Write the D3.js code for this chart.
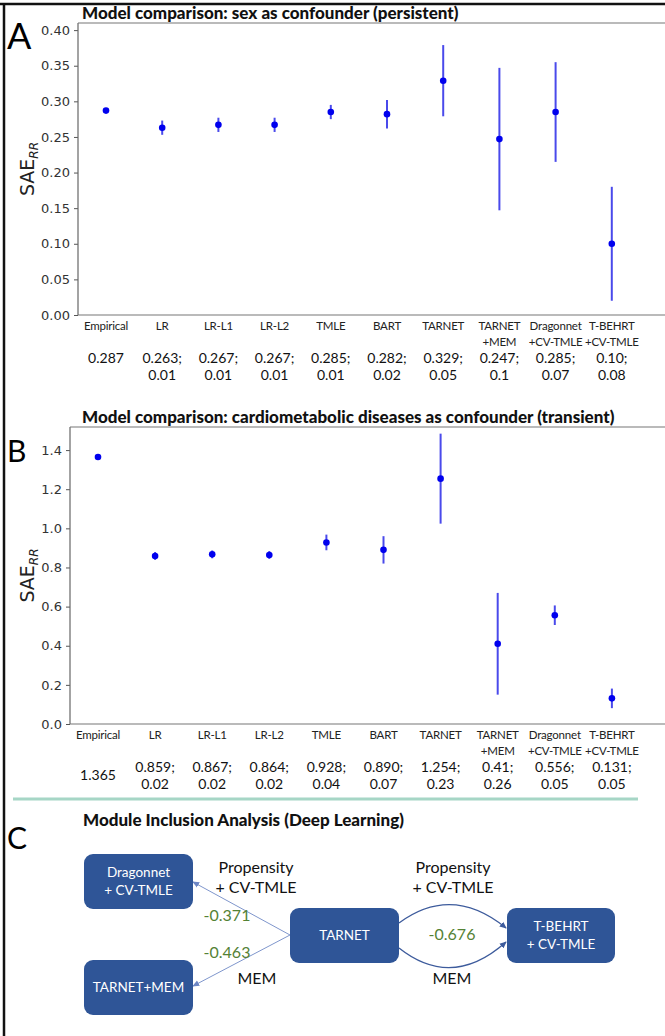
<!DOCTYPE html>
<html>
<head>
<meta charset="utf-8">
<script src="https://cdn.jsdelivr.net/npm/d3@7"></script>
<style>
  body { margin: 0; background: #fff; }
  svg { display: block; }
</style>
</head>
<body>
<svg id="fig" width="665" height="1036"></svg>
<script>
// model names (two-line labels as in the figure)
const modelLabels = [
    ['Empirical'], ['LR'], ['LR-L1'], ['LR-L2'], ['TMLE'], ['BART'], ['TARNET'],
    ['TARNET', '+MEM'], ['Dragonnet', '+CV-TMLE'], ['T-BEHRT', '+CV-TMLE']
];

// panel A: sex as confounder
const sexMean = [0.287, 0.263, 0.267, 0.267, 0.285, 0.282, 0.329, 0.247, 0.285, 0.10];
const sexErr = [0, 0.01, 0.01, 0.01, 0.01, 0.02, 0.05, 0.1, 0.07, 0.08];
const sexText = [
    ['0.287'], ['0.263;', '0.01'], ['0.267;', '0.01'], ['0.267;', '0.01'], ['0.285;', '0.01'],
    ['0.282;', '0.02'], ['0.329;', '0.05'], ['0.247;', '0.1'], ['0.285;', '0.07'], ['0.10;', '0.08']
];
const sexTicks = [0, 0.05, 0.10, 0.15, 0.20, 0.25, 0.30, 0.35, 0.40];

// panel B: cardiometabolic diseases as confounder
const cardioMean = [1.365, 0.859, 0.867, 0.864, 0.928, 0.890, 1.254, 0.41, 0.556, 0.131];
const cardioErr = [0, 0.02, 0.02, 0.02, 0.04, 0.07, 0.23, 0.26, 0.05, 0.05];
const cardioText = [
    ['1.365'], ['0.859;', '0.02'], ['0.867;', '0.02'], ['0.864;', '0.02'], ['0.928;', '0.04'],
    ['0.890;', '0.07'], ['1.254;', '0.23'], ['0.41;', '0.26'], ['0.556;', '0.05'], ['0.131;', '0.05']
];
const cardioTicks = [0, 0.2, 0.4, 0.6, 0.8, 1.0, 1.2, 1.4];

// panel C: module inclusion diagram
const nodeNames = [['Dragonnet', '+ CV-TMLE'], ['TARNET+MEM'], ['TARNET'], ['T-BEHRT', '+ CV-TMLE']];
const edgeValues = ['-0.371', '-0.463', '-0.676'];
const edgeModules = [['Propensity', '+ CV-TMLE'], ['MEM'], ['Propensity', '+ CV-TMLE'], ['MEM']];

const svg = d3.select('#fig');
const W = 665;
const calibri = 'Lato, "Open Sans", sans-serif';
const mpl = '"DejaVu Sans", sans-serif';
const blue = '#2f5597';

// outer frame (left + top)
svg.append('line').attr('x1', 0).attr('x2', W).attr('y1', 4).attr('y2', 4)
    .attr('stroke', '#111').attr('stroke-width', 2.5);
svg.append('line').attr('x1', 4).attr('x2', 4).attr('y1', 3).attr('y2', 1036)
    .attr('stroke', '#111').attr('stroke-width', 2.5);

const drawPanel = (cfg) => {
    const g = svg.append('g');
    const x = d3.scalePoint()
        .domain(d3.range(modelLabels.length))
        .range([cfg.left + 28, cfg.left + 28 + cfg.step * (modelLabels.length - 1)]);
    const y = d3.scaleLinear().domain([0, cfg.ymax]).range([cfg.bottom, cfg.top]);

    // title
    g.append('text')
        .attr('x', 82).attr('y', cfg.titleY)
        .attr('font-family', 'Lato, sans-serif').attr('font-weight', 900)
        .attr('font-size', 17).attr('fill', '#111')
        .text(cfg.title);

    // panel letter
    g.append('text')
        .attr('x', 7).attr('y', cfg.letterY)
        .attr('font-family', 'Lato, sans-serif').attr('font-size', cfg.letterSize)
        .attr('fill', '#000')
        .text(cfg.letter);

    // y axis via d3
    const yAxis = d3.axisLeft(y).tickValues(cfg.ticks).tickFormat(d3.format(cfg.fmt)).tickSize(4).tickPadding(4);
    const ga = g.append('g').attr('transform', `translate(${cfg.left},0)`).call(yAxis);
    ga.select('.domain').remove();
    ga.selectAll('line').attr('stroke', '#555');
    ga.selectAll('text').attr('font-family', mpl).attr('font-size', 13).attr('fill', '#333');

    // spines: left, top, bottom (right is cut off)
    g.append('line').attr('x1', cfg.left).attr('x2', cfg.left).attr('y1', cfg.top).attr('y2', cfg.bottom)
        .attr('stroke', '#666').attr('stroke-width', 1.2);
    g.append('line').attr('x1', cfg.left).attr('x2', W).attr('y1', cfg.top).attr('y2', cfg.top)
        .attr('stroke', '#777').attr('stroke-width', 1.2);
    g.append('line').attr('x1', cfg.left).attr('x2', W).attr('y1', cfg.bottom).attr('y2', cfg.bottom)
        .attr('stroke', '#777').attr('stroke-width', 1.2);

    // y label SAE_RR
    const yl = g.append('text')
        .attr('transform', `translate(34,${(cfg.top + cfg.bottom) / 2}) rotate(-90)`)
        .attr('text-anchor', 'middle')
        .attr('font-family', mpl).attr('font-size', 19).attr('fill', '#222');
    yl.append('tspan').text('SAE');
    yl.append('tspan').attr('font-size', 12).attr('font-style', 'italic').attr('dy', 4).text('RR');

    // error bars
    g.append('g').selectAll('line')
        .data(cfg.mean.map((m, i) => ({i, m, e: cfg.err[i]})).filter(d => d.e > 0))
        .join('line')
        .attr('x1', d => x(d.i)).attr('x2', d => x(d.i))
        .attr('y1', d => y(d.m - d.e)).attr('y2', d => y(d.m + d.e))
        .attr('stroke', '#2a2ae8').attr('stroke-opacity', 0.85).attr('stroke-width', 2);

    // points
    g.append('g').selectAll('circle')
        .data(cfg.mean)
        .join('circle')
        .attr('cx', (d, i) => x(i)).attr('cy', d => y(d))
        .attr('r', 3.3).attr('fill', '#0000ee');

    // model name rows
    const lab = g.append('g').selectAll('text')
        .data(modelLabels)
        .join('text')
        .attr('text-anchor', 'middle')
        .attr('font-family', calibri).attr('font-size', 11.5).attr('fill', '#222')
        .attr('x', (d, i) => x(i)).attr('y', cfg.labelY);
    lab.selectAll('tspan').data(d => d).join('tspan')
        .attr('x', function() { return d3.select(this.parentNode).attr('x'); })
        .attr('dy', (d, j) => j === 0 ? 0 : 15.5)
        .attr('letter-spacing', -0.2)
        .text(d => d);

    // value rows (mean; sd)
    const val = g.append('g').selectAll('text')
        .data(cfg.text)
        .join('text')
        .attr('text-anchor', 'middle')
        .attr('font-family', calibri).attr('font-size', 14).attr('fill', '#111')
        .attr('x', (d, i) => x(i))
        .attr('y', d => d.length === 1 ? cfg.valueY + cfg.singleShift : cfg.valueY);
    val.selectAll('tspan').data(d => d).join('tspan')
        .attr('x', function() { return d3.select(this.parentNode).attr('x'); })
        .attr('dy', (d, j) => j === 0 ? 0 : 17)
        .text(d => d);
};

drawPanel({
    title: 'Model comparison: sex as confounder (persistent)',
    letter: 'A', letterY: 49, letterSize: 36, titleY: 19,
    left: 78, step: 56.2, top: 23, bottom: 315, ymax: 0.41,
    ticks: sexTicks, fmt: '.2f',
    mean: sexMean, err: sexErr, text: sexText,
    labelY: 330, valueY: 363, singleShift: 0
});

drawPanel({
    title: 'Model comparison: cardiometabolic diseases as confounder (transient)',
    letter: 'B', letterY: 462, letterSize: 30, titleY: 423,
    left: 70, step: 57.1, top: 427, bottom: 724, ymax: 1.518,
    ticks: cardioTicks, fmt: '.1f',
    mean: cardioMean, err: cardioErr, text: cardioText,
    labelY: 739, valueY: 772, singleShift: 8
});

// separator
svg.append('line').attr('x1', 13).attr('x2', 638).attr('y1', 799).attr('y2', 799)
    .attr('stroke', '#a6d6c6').attr('stroke-width', 3);

// ---------- panel C ----------
const gc = svg.append('g');
gc.append('text').attr('x', 7).attr('y', 849)
    .attr('font-family', 'Lato, sans-serif').attr('font-size', 30).text('C');
gc.append('text').attr('x', 83).attr('y', 826)
    .attr('font-family', 'Lato, sans-serif').attr('font-weight', 900).attr('font-size', 17)
    .attr('fill', '#111').text('Module Inclusion Analysis (Deep Learning)');

// box layout (x, y, w, h) for each node
const boxes = [
    {x: 84, y: 854, w: 109, h: 55},
    {x: 84, y: 960, w: 109, h: 55},
    {x: 290, y: 908, w: 109, h: 55},
    {x: 507, y: 908, w: 108, h: 55}
];

const defs = svg.append('defs');
const mk = (id, color) => defs.append('marker')
    .attr('id', id)
    .attr('viewBox', '-6 -4 8 8')
    .attr('refX', 1).attr('refY', 0)
    .attr('markerWidth', 7).attr('markerHeight', 7)
    .attr('markerUnits', 'userSpaceOnUse')
    .attr('orient', 'auto')
    .append('path').attr('d', 'M-6,-3.5 L2,0 L-6,3.5 Z').attr('fill', color);
mk('arrLight', '#6d86c4');
mk('arrDark', '#3d5b9c');

// edges
const tarnet = boxes[2];
const tb = boxes[3];
const straight = [
    [[tarnet.x, tarnet.y + 27], [boxes[0].x + boxes[0].w, 882]],
    [[tarnet.x, tarnet.y + 27], [boxes[1].x + boxes[1].w, 986]]
];
gc.append('g').selectAll('path').data(straight).join('path')
    .attr('d', d => d3.line()(d))
    .attr('fill', 'none').attr('stroke', '#7f96cc').attr('stroke-width', 1)
    .attr('marker-end', 'url(#arrLight)');

const curves = [
    `M${tarnet.x + tarnet.w},${923} Q${452},${884} ${tb.x - 1},${928}`,
    `M${tarnet.x + tarnet.w},${948} Q${452},${990} ${tb.x - 1},${942}`
];
gc.append('g').selectAll('path').data(curves).join('path')
    .attr('d', d => d)
    .attr('fill', 'none').attr('stroke', '#3d5b9c').attr('stroke-width', 1.3)
    .attr('marker-end', 'url(#arrDark)');

// boxes
const nodes = gc.append('g').selectAll('g')
    .data(nodeNames.map((n, i) => ({n, b: boxes[i]})))
    .join('g');
nodes.append('rect')
    .attr('x', d => d.b.x).attr('y', d => d.b.y)
    .attr('width', d => d.b.w).attr('height', d => d.b.h)
    .attr('rx', 9).attr('fill', blue);
nodes.append('text')
    .attr('text-anchor', 'middle')
    .attr('font-family', calibri).attr('font-size', 13.5).attr('fill', '#fff')
    .attr('x', d => d.b.x + d.b.w / 2)
    .attr('y', d => d.b.y + d.b.h / 2 + 4.5 - (d.n.length - 1) * 9)
    .selectAll('tspan').data(d => d.n.map(t => ({t, x: d.b.x + d.b.w / 2}))).join('tspan')
    .attr('x', d => d.x)
    .attr('dy', (d, j) => j === 0 ? 0 : 18)
    .text(d => d.t);

// edge annotations
const modPos = [[256, 873], [257, 984], [453, 873], [452, 984]];
gc.append('g').selectAll('text').data(edgeModules).join('text')
    .attr('text-anchor', 'middle')
    .attr('font-family', calibri).attr('font-size', 16).attr('fill', '#111')
    .attr('x', (d, i) => modPos[i][0]).attr('y', (d, i) => modPos[i][1])
    .each(function(d, i) {
        d3.select(this).selectAll('tspan').data(d).join('tspan')
            .attr('x', modPos[i][0])
            .attr('dy', (t, j) => j === 0 ? 0 : 20)
            .text(t => t);
    });

const valPos = [[227, 921], [227, 958], [452, 940]];
gc.append('g').selectAll('text').data(edgeValues).join('text')
    .attr('text-anchor', 'middle')
    .attr('font-family', calibri).attr('font-size', 16).attr('fill', '#548235')
    .attr('x', (d, i) => valPos[i][0]).attr('y', (d, i) => valPos[i][1])
    .text(d => d);
</script>
</body>
</html>
